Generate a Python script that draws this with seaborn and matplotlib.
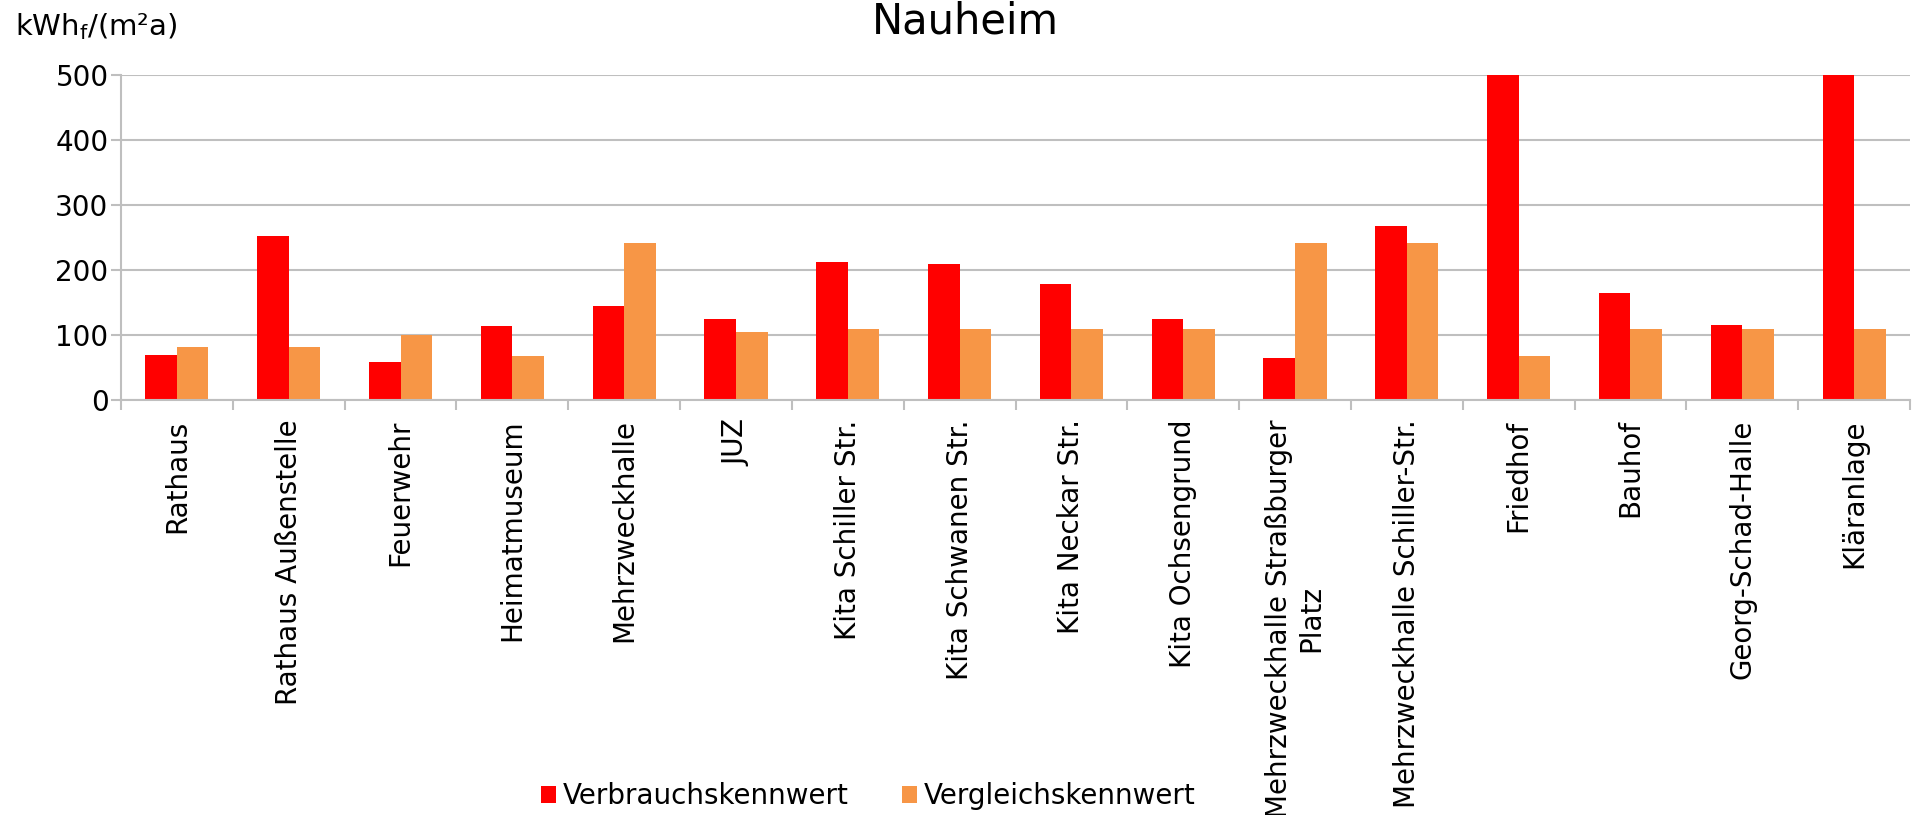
import numpy as np
import pandas as pd
import matplotlib
matplotlib.use("Agg")
import matplotlib.pyplot as plt
from matplotlib.ticker import MultipleLocator
import seaborn as sns

# Energiekennwerte der Liegenschaften in Nauheim
gebaeude = ["Rathaus", "Rathaus Außenstelle", "Feuerwehr", "Heimatmuseum",
            "Mehrzweckhalle", "JUZ", "Kita Schiller Str.", "Kita Schwanen Str.",
            "Kita Neckar Str.", "Kita Ochsengrund",
            "Mehrzweckhalle Straßburger\nPlatz", "Mehrzweckhalle Schiller-Str.",
            "Friedhof", "Bauhof", "Georg-Schad-Halle", "Kläranlage"]
# Friedhof und Kläranlage liegen über dem Achsenmaximum (500) und werden abgeschnitten
verbrauch = [70, 252, 59, 114, 145, 124, 213, 210, 179, 124, 65, 268, 600, 165, 116, 600]
vergleich = [82, 82, 100, 67, 241, 105, 110, 110, 110, 110, 241, 241, 67, 110, 110, 110]
serien = ["Verbrauchskennwert", "Vergleichskennwert"]
farben = ["#FF0000", "#F79646"]

df = pd.DataFrame({
    "gebaeude": gebaeude * 2,
    "wert": verbrauch + vergleich,
    "serie": [serien[0]] * len(gebaeude) + [serien[1]] * len(gebaeude),
})

sns.set_style("white")
plt.rcParams['font.family'] = ['DejaVu Sans']
plt.rcParams['text.color'] = 'black'
plt.rcParams['xtick.labelcolor'] = 'black'
plt.rcParams['ytick.labelcolor'] = 'black'

fig = plt.figure(figsize=(19.12, 8.15), dpi=100)
ax = fig.add_axes([121 / 1912, 1 - 400 / 815, (1910 - 121) / 1912, 325 / 815])

sns.barplot(data=df, x="gebaeude", y="wert", hue="serie", order=gebaeude,
            hue_order=serien, palette=farben, saturation=1, width=0.565,
            gap=0, linewidth=0, ax=ax)

grau = "#BFBFBF"
ax.set_ylim(0, 500)
ax.yaxis.set_major_locator(MultipleLocator(100))
ax.grid(axis="y", color=grau, lw=1.5)
ax.set_axisbelow(True)
for s in ["top", "right"]:
    ax.spines[s].set_visible(False)
for s in ["left", "bottom"]:
    ax.spines[s].set_color(grau)
    ax.spines[s].set_linewidth(1.5)

ax.set_xlabel("")
ax.set_ylabel("")
ax.set_xticks(range(len(gebaeude)))
ax.set_xticklabels(gebaeude, rotation=90, ha="center", va="top",
                   multialignment="center")
ax.set_xticks(np.arange(-0.5, len(gebaeude), 1), minor=True)
ax.tick_params(axis="x", which="major", length=0, pad=14, labelsize=20,
               labelcolor="black")
ax.tick_params(axis="x", which="minor", length=7, width=1.5, color=grau,
               direction="out", bottom=True)
ax.tick_params(axis="y", length=7, width=1.5, color=grau, direction="out",
               labelsize=20, pad=2, left=True, labelcolor="black")

handles, labels = ax.get_legend_handles_labels()
ax.get_legend().remove()
fig.legend(handles, labels, loc="center left",
           bbox_to_anchor=(541 / 1912, 1 - 796 / 815), ncol=2, frameon=False,
           fontsize=20, handlelength=0.55, handleheight=0.55,
           handletextpad=0.25, columnspacing=1.9, borderpad=0,
           borderaxespad=0, labelcolor="black")

fig.text(0.505, 1 - 34 / 815, "Nauheim", fontsize=30, ha="center",
         va="baseline", color="black")
fig.text(15 / 1912, 1 - 35 / 815, r"kWh$_\mathregular{f}$/(m²a)", fontsize=21,
         va="baseline", color="black")

fig.savefig("out.png", dpi=100)
